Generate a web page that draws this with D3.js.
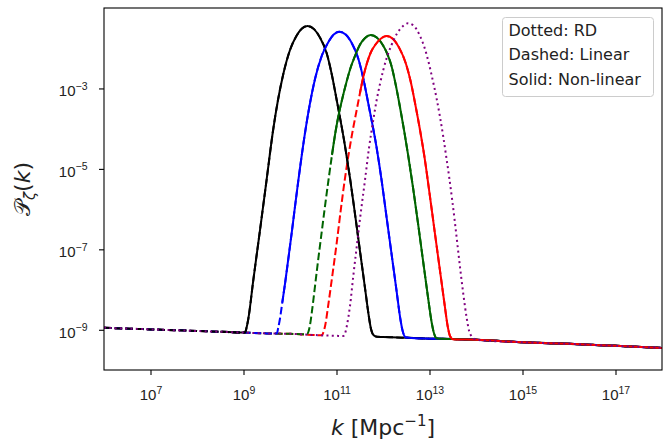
<!DOCTYPE html>
<html>
<head>
<meta charset="utf-8">
<script src="https://cdn.jsdelivr.net/npm/d3@7"></script>
<style>
  body { margin: 0; background: #fff; }
  svg { display: block; font-family: "DejaVu Sans", sans-serif; }
</style>
</head>
<body>
<svg id="chart" width="671" height="441"></svg>
<script>
// ---- tick decades (log10 units) ----
const xTickExp = [7, 9, 11, 13, 15, 17];
const yTickExp = [-9, -7, -5, -3];

// ---- data, all as [log10 k, log10 P_zeta] ----
// common plateau away from the peaks
const plateau = [
  [6.0, -8.95], [7.0, -8.99], [8.0, -9.03], [8.5, -9.05], [9.0, -9.07],
  [9.5, -9.09], [10.0, -9.10], [10.5, -9.13], [11.0, -9.15], [11.5, -9.16],
  [12.0, -9.18], [12.5, -9.20], [13.0, -9.22], [13.5, -9.23], [14.0, -9.25],
  [15.0, -9.31], [16.0, -9.35], [17.0, -9.40], [18.0, -9.45]
];

const peakBlack = [
  [9.032, -9.068], [9.064, -8.956], [9.103, -8.732], [9.211, -7.763], [9.355, -6.520],
  [9.499, -5.252], [9.634, -4.058], [9.738, -3.312], [9.856, -2.641], [10.000, -2.044],
  [10.144, -1.684], [10.258, -1.507], [10.378, -1.448], [10.516, -1.525], [10.645, -1.736],
  [10.789, -2.126], [10.892, -2.616], [11.004, -3.287], [11.183, -4.431], [11.290, -5.227],
  [11.398, -6.122], [11.505, -7.042], [11.613, -7.962], [11.688, -8.608], [11.742, -8.981],
  [11.806, -9.143], [11.871, -9.175]
];

const peakBlue = [
  [9.716, -9.095], [9.746, -8.956], [9.785, -8.720], [9.834, -8.325], [9.892, -7.862],
  [10.036, -6.594], [10.178, -5.301], [10.316, -4.158], [10.419, -3.437], [10.538, -2.765],
  [10.682, -2.193], [10.826, -1.845], [10.940, -1.659], [11.060, -1.589], [11.198, -1.659],
  [11.327, -1.870], [11.471, -2.268], [11.574, -2.740], [11.686, -3.387], [11.864, -4.481],
  [11.972, -5.301], [12.079, -6.221], [12.187, -7.141], [12.295, -8.061], [12.370, -8.708],
  [12.423, -9.031], [12.484, -9.185], [12.548, -9.200]
];

const peakGreen = [
  [10.365, -9.110], [10.398, -9.043], [10.430, -8.882], [10.473, -8.533], [10.538, -7.912],
  [10.608, -7.241], [10.682, -6.569], [10.753, -5.923], [10.828, -5.276], [10.903, -4.655],
  [10.978, -4.083], [11.054, -3.611], [11.133, -3.213], [11.215, -2.840], [11.301, -2.492],
  [11.398, -2.193], [11.501, -1.920], [11.615, -1.746], [11.735, -1.671], [11.873, -1.741],
  [12.002, -1.932], [12.075, -2.094], [12.183, -2.442], [12.279, -2.939], [12.361, -3.437],
  [12.452, -4.033], [12.540, -4.655], [12.647, -5.475], [12.755, -6.370], [12.862, -7.290],
  [12.970, -8.210], [13.045, -8.807], [13.092, -9.068], [13.150, -9.210], [13.215, -9.222]
];

const peakRed = [
  [10.677, -9.138], [10.720, -9.056], [10.763, -8.857], [10.817, -8.434], [10.897, -7.763],
  [11.004, -6.843], [11.097, -5.973], [11.183, -5.227], [11.269, -4.580], [11.355, -4.008],
  [11.430, -3.561], [11.505, -3.113], [11.576, -2.716], [11.656, -2.367], [11.742, -2.094],
  [11.839, -1.908], [11.957, -1.758], [12.079, -1.696], [12.217, -1.771], [12.346, -1.985],
  [12.490, -2.375], [12.593, -2.815], [12.705, -3.461], [12.796, -4.033], [12.892, -4.705],
  [13.000, -5.600], [13.107, -6.520], [13.215, -7.440], [13.323, -8.359], [13.394, -8.931],
  [13.441, -9.155], [13.505, -9.235]
];

const peakRD = [
  [11.146, -9.155], [11.187, -9.080], [11.226, -8.882], [11.290, -8.409], [11.361, -7.663],
  [11.434, -6.942], [11.505, -6.246], [11.613, -5.276], [11.699, -4.481], [11.791, -3.785],
  [11.860, -3.312], [11.935, -2.890], [12.006, -2.542], [12.079, -2.243], [12.183, -1.920],
  [12.295, -1.646], [12.419, -1.460], [12.538, -1.380], [12.656, -1.435], [12.796, -1.696],
  [12.882, -1.945], [12.974, -2.318], [13.064, -2.765], [13.155, -3.263], [13.226, -3.710],
  [13.297, -4.207], [13.361, -4.705], [13.426, -5.227], [13.488, -5.774], [13.548, -6.346],
  [13.602, -6.893], [13.656, -7.440], [13.727, -8.111], [13.800, -8.708], [13.849, -9.018],
  [13.907, -9.168], [13.978, -9.237]
];

// log10 k from which each non-linear (solid) curve separates from the linear one
const nonLinearFrom = { black: 8.5, blue: 9.834, green: 10.903, red: 11.505 };

const legendLines = ["Dotted: RD", "Dashed: Linear", "Solid: Non-linear"];

// ---- layout ----
const W = 671, H = 441;
const L = 104, R = 662, T = 8, B = 370;

const x = d3.scaleLog().domain([1e6, 1e18]).range([L, R]);
const y = d3.scaleLog().domain([1e-10, 1e-1]).range([B, T]);

const svg = d3.select("#chart");
svg.append("rect").attr("width", W).attr("height", H).attr("fill", "#fff");

svg.append("defs").append("clipPath").attr("id", "plotArea")
  .append("rect").attr("x", L).attr("y", T).attr("width", R - L).attr("height", B - T);

// full curve = plateau outside the peak + the peak itself
function withPlateau(peak) {
  const k0 = peak[0][0], k1 = peak[peak.length - 1][0];
  return plateau.filter(p => p[0] < k0 - 0.02)
    .concat(peak)
    .concat(plateau.filter(p => p[0] > k1 + 0.02));
}

const line = d3.line()
  .x(d => x(Math.pow(10, d[0])))
  .y(d => y(Math.pow(10, d[1])))
  .curve(d3.curveMonotoneX);

const curves = {
  black: withPlateau(peakBlack),
  blue: withPlateau(peakBlue),
  green: withPlateau(peakGreen),
  red: withPlateau(peakRed),
  rd: withPlateau(peakRD)
};
const colours = { black: "#000000", blue: "#0000ff", green: "#006400", red: "#ff0000", rd: "#800080" };

const lw = 2.0;
const plot = svg.append("g").attr("clip-path", "url(#plotArea)");

// linear spectra (dashed)
["red", "green", "blue", "black"].forEach(c => {
  plot.append("path")
    .attr("d", line(curves[c]))
    .attr("fill", "none")
    .attr("stroke", colours[c])
    .attr("stroke-width", lw)
    .attr("stroke-dasharray", "7.5,3.2");
});

// non-linear spectra (solid)
["black", "blue", "green", "red"].forEach(c => {
  plot.append("path")
    .attr("d", line(curves[c].filter(p => p[0] >= nonLinearFrom[c])))
    .attr("fill", "none")
    .attr("stroke", colours[c])
    .attr("stroke-width", lw)
    .attr("stroke-linejoin", "round");
});

// radiation-domination spectrum (dotted)
plot.append("path")
  .attr("d", line(curves.rd))
  .attr("fill", "none")
  .attr("stroke", colours.rd)
  .attr("stroke-width", lw)
  .attr("stroke-dasharray", "2,3.3");

// ---- axes ----
const xAxis = svg.append("g").attr("transform", `translate(0,${B})`)
  .call(d3.axisBottom(x).tickValues(xTickExp.map(e => Math.pow(10, e)))
    .tickSize(5).tickFormat(() => ""));
xAxis.select(".domain").remove();
xAxis.selectAll(".tick line").attr("stroke", "#000").attr("stroke-width", 1.1);
xAxis.selectAll(".tick text").remove();
xAxis.selectAll(".tick").each(function (d) {
  const e = Math.round(Math.log10(d));
  const t = d3.select(this).append("text")
    .attr("y", 30).attr("text-anchor", "middle")
    .attr("font-size", 15).attr("fill", "#222");
  t.append("tspan").text("10");
  t.append("tspan").attr("dy", -6.5).attr("font-size", 10.5).text(String(e));
});

const yAxis = svg.append("g").attr("transform", `translate(${L},0)`)
  .call(d3.axisLeft(y).tickValues(yTickExp.map(e => Math.pow(10, e)))
    .tickSize(5).tickFormat(() => ""));
yAxis.select(".domain").remove();
yAxis.selectAll(".tick line").attr("stroke", "#000").attr("stroke-width", 1.1);
yAxis.selectAll(".tick text").remove();
yAxis.selectAll(".tick").each(function (d) {
  const e = Math.round(Math.log10(d));
  const t = d3.select(this).append("text")
    .attr("x", -16.5).attr("y", 7.5).attr("text-anchor", "end")
    .attr("font-size", 15).attr("fill", "#222");
  t.append("tspan").text("10");
  t.append("tspan").attr("dy", -6.5).attr("font-size", 10.5).text("\u2212" + Math.abs(e));
});

// frame
svg.append("rect")
  .attr("x", L).attr("y", T).attr("width", R - L).attr("height", B - T)
  .attr("fill", "none").attr("stroke", "#000").attr("stroke-width", 1.1);

// axis labels
const xl = svg.append("text")
  .attr("x", (L + R) / 2).attr("y", 435).attr("text-anchor", "middle")
  .attr("font-size", 22).attr("fill", "#222");
xl.append("tspan").attr("font-style", "italic").text("k");
xl.append("tspan").text(" [Mpc");
xl.append("tspan").attr("dy", -9).attr("font-size", 15).text("\u22121");
xl.append("tspan").attr("dy", 9).text("]");

const yl = svg.append("text")
  .attr("transform", `translate(30,${(T + B) / 2}) rotate(-90)`)
  .attr("text-anchor", "middle").attr("font-size", 22).attr("fill", "#222");
yl.append("tspan").text("\u{1D4AB}");
yl.append("tspan").attr("dy", 5).attr("font-size", 15).attr("font-style", "italic").text("\u03B6");
yl.append("tspan").attr("dy", -5).text("(");
yl.append("tspan").attr("font-style", "italic").text("k");
yl.append("tspan").text(")");

// legend (text only)
const lg = svg.append("g");
lg.append("rect")
  .attr("x", 502.5).attr("y", 17.5).attr("width", 151).attr("height", 79)
  .attr("rx", 3).attr("fill", "#fff").attr("fill-opacity", 0.8)
  .attr("stroke", "#cccccc").attr("stroke-width", 1);
legendLines.forEach((s, i) => {
  lg.append("text")
    .attr("x", 508.5).attr("y", 35.5 + i * 24.85)
    .attr("font-size", 16).attr("fill", "#222")
    .text(s);
});
</script>
</body>
</html>
